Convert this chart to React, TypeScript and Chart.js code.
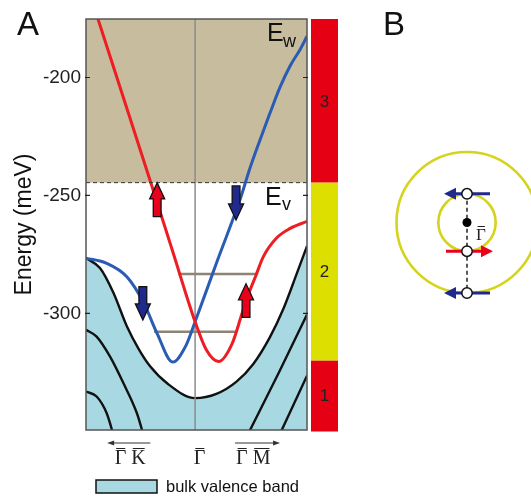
import { useEffect, useRef } from "react";
import { Chart, registerables } from "chart.js";

Chart.register(...registerables);

// ---- axis ranges & ticks ----
const kMin = -0.975;
const kMax = 1.0;
const eMin = -349.5;
const eMax = -175.2;
const yTickVals = [-300, -250, -200];
const xTickVals = [-0.58, 0.04, 0.52];
// symbols carry an overbar (drawn above each letter)
const xTickLabels = ["\u0393 K", "\u0393", "\u0393 M"];

// ---- bands (k, E in meV) ----
const kBlue = [-0.975, -0.79, -0.61, -0.46, -0.34, -0.2, -0.08, 0, 0.2, 0.4, 0.49, 0.58, 0.67, 0.76, 0.85, 0.94, 1.0];
const eBlue = [-276.6, -278.8, -284.5, -295.5, -308.5, -320.7, -313.5, -303.6, -277.5, -252, -238.5, -226.5, -215, -204, -195, -188, -182.5];

const kRed = [-0.9, -0.6, -0.4, -0.2, 0, 0.1, 0.21, 0.33, 0.42, 0.48, 0.54, 0.61, 0.73, 0.85, 1.0];
const eRed = [-170.5, -214.5, -244, -273.8, -303.6, -315.5, -320.5, -313, -300, -291.5, -284.4, -276, -268, -264, -261];

const kBulk = [-0.975, -0.85, -0.73, -0.61, -0.5, -0.4, -0.25, 0, 0.19, 0.37, 0.52, 0.67, 0.79, 0.91, 1.0];
const eBulk = [-276.6, -280.8, -291.3, -305.5, -315.5, -322.6, -329.7, -336, -334.2, -329, -321.5, -310, -298, -283, -271.5];

const kBulk2 = [-0.975, -0.88, -0.76, -0.64, -0.52, -0.45];
const eBulk2 = [-307, -309.9, -318.4, -329.7, -342.4, -353.5];
const kBulk3 = [-0.975, -0.88, -0.79, -0.72];
const eBulk3 = [-333.2, -335.3, -342.4, -353.2];
const kBulk4 = [0.47, 0.75, 1.0];
const eBulk4 = [-351.5, -325, -300.5];
const kBulk5 = [0.75, 1.0];
const eBulk5 = [-352, -326.5];

// constant-energy connectors
const kUpper = [-0.149, 0.545];
const eUpper = -283.3;
const kLower = [-0.366, 0.372];
const eLower = -307.8;

// spin arrows
const arrowK = [-0.339, 0.455, -0.467, 0.366];
const arrowFrom = [-259, -301.7, -288.7, -246];
const arrowTo = [-244.7, -287.5, -302.8, -260.4];
const arrowSpin = ["up", "up", "down", "down"];

// energy regions
const eW = -244.6;
const regionEdges = [eMax, eW, -320.1, eMin];
const regionLabels = ["3", "2", "1"];
const regionColors = ["#e60013", "#dcdf00", "#e60013"];

// direction arrows under axis (k from -> to)
const dirFrom = [-0.4, 0.357];
const dirTo = [-0.786, 0.759];

const RED = "#ee1d23";
const BLUE = "#2b5cb4";
const ARROW_RED = "#e8001c";
const ARROW_BLUE = "#1f2a8c";
const TAN = "#c8bc9e";
const BULK = "#a8d9e3";
const SANS = "'Liberation Sans', Arial, sans-serif";
const SERIF = "'Liberation Serif', 'Times New Roman', serif";

const pts = (ks: number[], es: number[]) => ks.map((k, i) => ({ x: k, y: es[i] }));

function blockArrow(ctx: CanvasRenderingContext2D, cx: number, yTail: number, yTip: number, color: string) {
  const dir = yTip < yTail ? -1 : 1;
  const headH = 16;
  const headW = 7.5;
  const shaftW = 3.9;
  const yNeck = yTip - dir * headH;
  ctx.beginPath();
  ctx.moveTo(cx - shaftW, yTail);
  ctx.lineTo(cx - shaftW, yNeck);
  ctx.lineTo(cx - headW, yNeck);
  ctx.lineTo(cx, yTip);
  ctx.lineTo(cx + headW, yNeck);
  ctx.lineTo(cx + shaftW, yNeck);
  ctx.lineTo(cx + shaftW, yTail);
  ctx.closePath();
  ctx.fillStyle = color;
  ctx.fill();
  ctx.lineWidth = 1.3;
  ctx.strokeStyle = "#111";
  ctx.stroke();
}

function hArrow(ctx: CanvasRenderingContext2D, x0: number, x1: number, y: number, color: string, lw: number, headLen: number, headHalf: number) {
  const s = x1 > x0 ? 1 : -1;
  ctx.strokeStyle = color;
  ctx.lineWidth = lw;
  ctx.beginPath();
  ctx.moveTo(x0, y);
  ctx.lineTo(x1 - s * headLen * 0.8, y);
  ctx.stroke();
  ctx.fillStyle = color;
  ctx.beginPath();
  ctx.moveTo(x1, y);
  ctx.lineTo(x1 - s * headLen, y - headHalf);
  ctx.lineTo(x1 - s * headLen, y + headHalf);
  ctx.closePath();
  ctx.fill();
}

// draws overbars above each space-separated symbol of a centred label
function overbars(ctx: CanvasRenderingContext2D, label: string, cx: number, yBar: number) {
  const W = ctx.measureText(label).width;
  const sp = ctx.measureText(" ").width;
  let start = cx - W / 2;
  label.split(" ").forEach((p) => {
    const w = ctx.measureText(p).width;
    ctx.beginPath();
    ctx.moveTo(start + 1.5, yBar);
    ctx.lineTo(start + w - 1, yBar);
    ctx.stroke();
    start += w + sp;
  });
}

const decor = {
  id: "decor",
  beforeDatasetsDraw(chart: any) {
    const { ctx, chartArea, scales } = chart;
    const { left, right, top } = chartArea;
    const y = scales.y;
    ctx.save();
    ctx.fillStyle = TAN;
    ctx.fillRect(left, top, right - left, y.getPixelForValue(eW) - top);
    ctx.restore();
  },
  afterDatasetsDraw(chart: any) {
    const { ctx, chartArea, scales } = chart;
    const { left, right, top, bottom } = chartArea;
    const x = scales.x;
    const y = scales.y;
    ctx.save();

    // E_w dashed line
    const yW = y.getPixelForValue(eW);
    ctx.setLineDash([4, 3]);
    ctx.strokeStyle = "#333";
    ctx.lineWidth = 1;
    ctx.beginPath();
    ctx.moveTo(left, yW);
    ctx.lineTo(right, yW);
    ctx.stroke();
    ctx.setLineDash([]);

    // spin arrows
    arrowK.forEach((k, i) => {
      blockArrow(ctx, x.getPixelForValue(k), y.getPixelForValue(arrowFrom[i]), y.getPixelForValue(arrowTo[i]),
        arrowSpin[i] === "up" ? ARROW_RED : ARROW_BLUE);
    });

    // frame
    ctx.strokeStyle = "#555";
    ctx.lineWidth = 1.5;
    ctx.strokeRect(left, top, right - left, bottom - top);

    // inward ticks
    ctx.strokeStyle = "#222";
    ctx.lineWidth = 1.2;
    yTickVals.forEach((v) => {
      const py = y.getPixelForValue(v);
      ctx.beginPath();
      ctx.moveTo(left - 1, py);
      ctx.lineTo(left + 4, py);
      ctx.moveTo(right - 4, py);
      ctx.lineTo(right + 1, py);
      ctx.stroke();
    });

    // E labels
    ctx.fillStyle = "#111";
    ctx.textBaseline = "alphabetic";
    ctx.textAlign = "left";
    ctx.font = `25px ${SANS}`;
    ctx.fillText("E", 267, 41);
    ctx.font = `18px ${SANS}`;
    ctx.fillText("w", 283, 46.5);
    ctx.font = `25px ${SANS}`;
    ctx.fillText("E", 265, yW + 22);
    ctx.font = `18px ${SANS}`;
    ctx.fillText("v", 282, yW + 27.5);

    // region color bar
    const bx0 = right + 4;
    const bx1 = right + 31;
    for (let i = 0; i < regionLabels.length; i++) {
      const y0 = y.getPixelForValue(regionEdges[i]);
      const y1 = y.getPixelForValue(regionEdges[i + 1]);
      ctx.fillStyle = regionColors[i];
      ctx.fillRect(bx0, y0, bx1 - bx0, y1 - y0 + (i === regionLabels.length - 1 ? 1.5 : 0));
      ctx.fillStyle = "#222";
      ctx.font = `17px ${SANS}`;
      ctx.textAlign = "center";
      ctx.textBaseline = "middle";
      ctx.fillText(regionLabels[i], (bx0 + bx1) / 2, (y0 + y1) / 2 + 1);
    }

    // direction arrows below axis
    const ay = bottom + 13;
    for (let i = 0; i < dirFrom.length; i++) {
      hArrow(ctx, x.getPixelForValue(dirFrom[i]), x.getPixelForValue(dirTo[i]), ay, "#333", 1, 7, 2.5);
    }

    // overbars on the k-point symbols
    ctx.font = `20px ${SERIF}`;
    ctx.strokeStyle = "#222";
    ctx.lineWidth = 1;
    xTickVals.forEach((v, i) => overbars(ctx, xTickLabels[i], x.getPixelForValue(v), bottom + 18.5));

    // legend
    ctx.fillStyle = BULK;
    ctx.fillRect(96, 480, 61, 13);
    ctx.strokeStyle = "#111";
    ctx.lineWidth = 1.5;
    ctx.strokeRect(96, 480, 61, 13);
    ctx.fillStyle = "#111";
    ctx.font = `16.5px ${SANS}`;
    ctx.textAlign = "left";
    ctx.textBaseline = "middle";
    ctx.fillText("bulk valence band", 166, 487);

    // panel letters
    ctx.font = `33px ${SANS}`;
    ctx.textBaseline = "alphabetic";
    ctx.fillText("A", 17, 35);
    ctx.fillText("B", 383, 35);

    // ---- panel B: constant energy contours ----
    const cx = 467;
    const cy = 222.5;
    const rBig = 70.5;
    const rSmall = 28.7;
    ctx.strokeStyle = "#d5d31c";
    ctx.lineWidth = 2.6;
    ctx.beginPath();
    ctx.arc(cx, cy, rBig, 0, Math.PI * 2);
    ctx.stroke();
    ctx.beginPath();
    ctx.arc(cx, cy, rSmall, 0, Math.PI * 2);
    ctx.stroke();

    ctx.setLineDash([4, 3]);
    ctx.strokeStyle = "#222";
    ctx.lineWidth = 1.5;
    ctx.beginPath();
    ctx.moveTo(cx, cy - rSmall);
    ctx.lineTo(cx, cy + rBig);
    ctx.stroke();
    ctx.setLineDash([]);

    hArrow(ctx, cx + 23, cx - 23, cy - rSmall, ARROW_BLUE, 3, 12, 6);
    hArrow(ctx, cx - 21, cx + 26, cy + rSmall, ARROW_RED, 3, 12, 6);
    hArrow(ctx, cx + 23, cx - 23, cy + rBig, ARROW_BLUE, 3, 12, 6);

    [cy - rSmall, cy + rSmall, cy + rBig].forEach((py) => {
      ctx.beginPath();
      ctx.arc(cx, py, 5.2, 0, Math.PI * 2);
      ctx.fillStyle = "#fff";
      ctx.fill();
      ctx.strokeStyle = "#111";
      ctx.lineWidth = 1.5;
      ctx.stroke();
    });
    ctx.beginPath();
    ctx.arc(cx, cy, 4.5, 0, Math.PI * 2);
    ctx.fillStyle = "#000";
    ctx.fill();

    ctx.fillStyle = "#222";
    ctx.font = `17px ${SERIF}`;
    ctx.textAlign = "center";
    ctx.textBaseline = "alphabetic";
    ctx.fillText("\u0393", 481, 240);
    ctx.strokeStyle = "#222";
    ctx.lineWidth = 1;
    overbars(ctx, "\u0393", 481, 226.5);

    ctx.restore();
  },
};

export default function App() {
  const ref = useRef<HTMLCanvasElement>(null);
  useEffect(() => {
    const lineDs = (label: string, data: any[], color: string, width: number, order: number, extra: any = {}) => ({
      label,
      data,
      borderColor: color,
      borderWidth: width,
      pointRadius: 0,
      fill: false,
      cubicInterpolationMode: "monotone",
      order,
      ...extra,
    });
    const chart = new Chart(ref.current!, {
      type: "line",
      data: {
        datasets: [
          lineDs("bulk valence band", pts(kBulk, eBulk), "#111", 2.4, 10, { fill: "start", backgroundColor: BULK }),
          lineDs("bulk 2", pts(kBulk2, eBulk2), "#111", 2.4, 9),
          lineDs("bulk 3", pts(kBulk3, eBulk3), "#111", 2.4, 9),
          lineDs("bulk 4", pts(kBulk4, eBulk4), "#111", 2.4, 9),
          lineDs("bulk 5", pts(kBulk5, eBulk5), "#111", 2.4, 9),
          lineDs("Gamma", [{ x: 0, y: eMin }, { x: 0, y: eMax }], "#8c8c8c", 1.5, 8, { cubicInterpolationMode: "default", tension: 0 }),
          lineDs("upper", kUpper.map((k) => ({ x: k, y: eUpper })), "#8e8472", 2.5, 7, { cubicInterpolationMode: "default", tension: 0 }),
          lineDs("lower", kLower.map((k) => ({ x: k, y: eLower })), "#8e8472", 2.5, 7, { cubicInterpolationMode: "default", tension: 0 }),
          lineDs("spin down", pts(kBlue, eBlue), BLUE, 3, 6),
          lineDs("spin up", pts(kRed, eRed), RED, 3, 5),
        ] as any,
      },
      options: {
        responsive: false,
        animation: false,
        events: [],
        layout: { padding: { left: 0, right: 224, top: 19, bottom: 0 } },
        plugins: { legend: { display: false }, tooltip: { enabled: false } },
        scales: {
          x: {
            type: "linear",
            min: kMin,
            max: kMax,
            grid: { display: false, drawTicks: false },
            border: { display: false },
            afterBuildTicks: (s: any) => {
              s.ticks = xTickVals.map((v) => ({ value: v }));
            },
            afterFit: (s: any) => {
              s.height = 70;
            },
            ticks: {
              autoSkip: false,
              maxRotation: 0,
              padding: 17,
              color: "#222",
              font: { family: SERIF, size: 20 },
              callback: (_v: any, i: number) => xTickLabels[i],
            },
          },
          y: {
            type: "linear",
            min: eMin,
            max: eMax,
            grid: { display: false, drawTicks: false },
            border: { display: false },
            afterBuildTicks: (s: any) => {
              s.ticks = yTickVals.map((v) => ({ value: v }));
            },
            afterFit: (s: any) => {
              s.width = 86;
            },
            ticks: {
              padding: 5,
              color: "#222",
              font: { family: SANS, size: 19 },
              callback: (v: any) => `${v}`,
            },
            title: {
              display: true,
              text: "Energy (meV)",
              color: "#111",
              font: { family: SANS, size: 23 },
              padding: { top: 11, bottom: 0 },
            },
          },
        },
      },
      plugins: [decor],
    } as any);
    return () => chart.destroy();
  }, []);
  return (
    <div style={{ position: "absolute", left: 0, top: 0, width: 531, height: 500, background: "#fff" }}>
      <canvas ref={ref} width={531} height={500} style={{ display: "block", width: 531, height: 500 }} />
    </div>
  );
}
